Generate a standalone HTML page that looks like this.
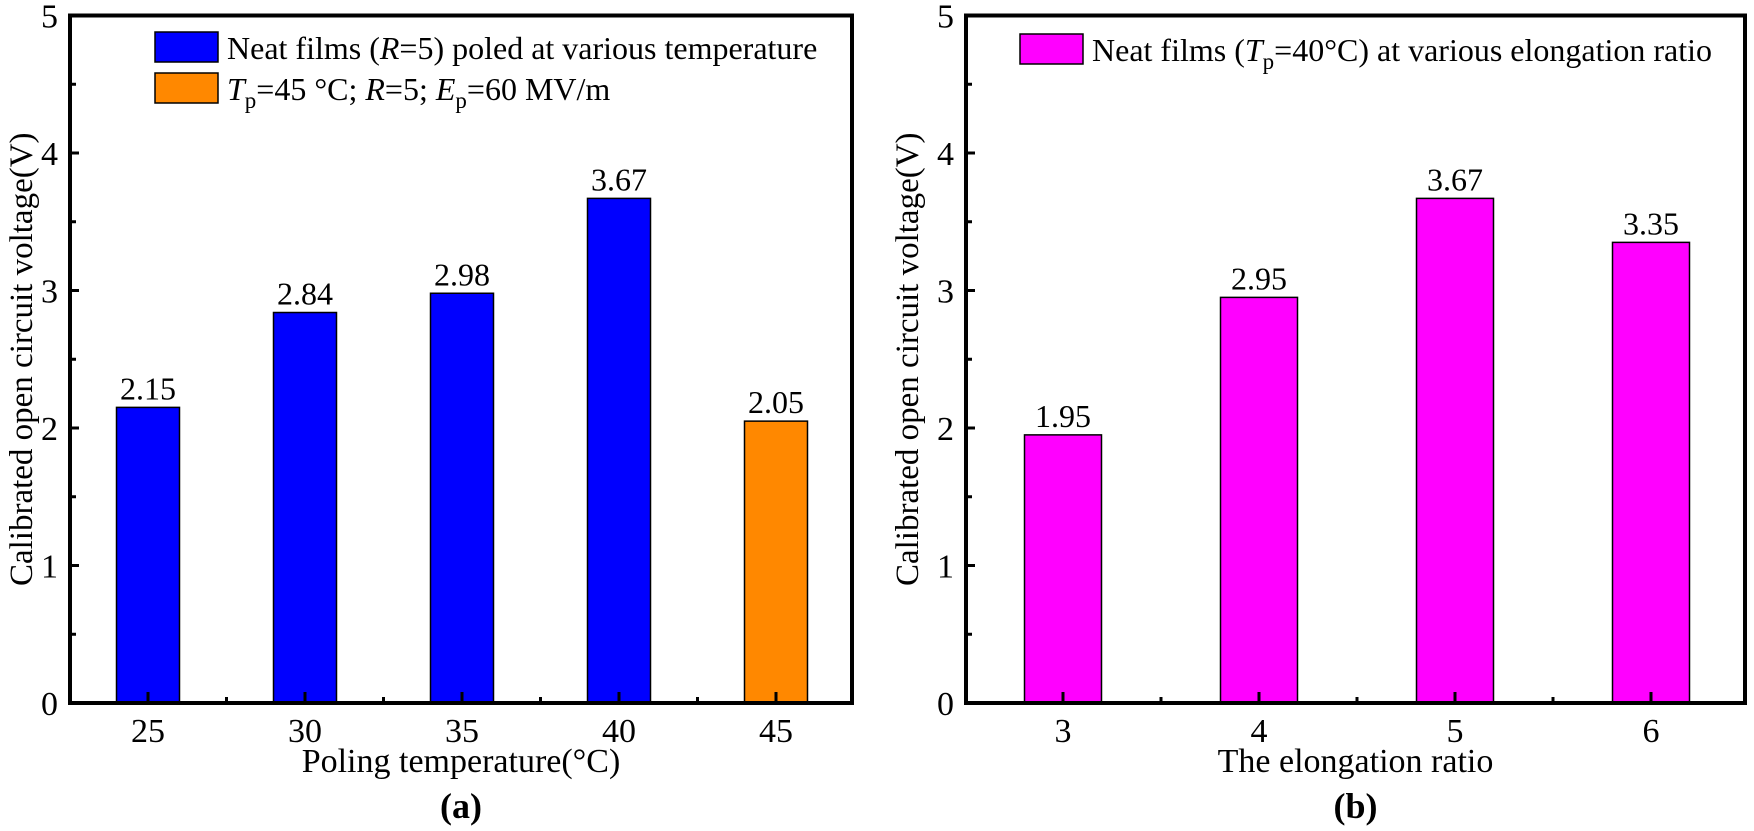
<!DOCTYPE html>
<html><head><meta charset="utf-8"><style>
html,body{margin:0;padding:0;background:#fff;}
svg, svg text{font-family:"Liberation Serif","Times New Roman",serif;}
svg{display:block;}
</style></head><body>
<svg id="c" width="1754" height="831" viewBox="0 0 1754 831" xmlns="http://www.w3.org/2000/svg"></svg>
<script>
const catsA = ["25","30","35","40","45"];
const valsA = [2.15, 2.84, 2.98, 3.67, 2.05];
const colorsA = ["#0000ff","#0000ff","#0000ff","#0000ff","#ff8800"];
const catsB = ["3","4","5","6"];
const valsB = [1.95, 2.95, 3.67, 3.35];
const yTicks = [0,1,2,3,4,5];
const NS="http://www.w3.org/2000/svg";
const svg=document.getElementById('c');
function mk(tag,attrs,parent){const e=document.createElementNS(NS,tag);for(const k in attrs)e.setAttribute(k,attrs[k]);(parent||svg).appendChild(e);return e;}
const y0=703,yTop=15.5;
function yS(v){return y0-(v/5)*(y0-yTop);}
function panel(p){
  const g=mk('g',{});
  
  
  const xS=i=>p.x0+p.step*i;
  p.vals.forEach((v,i)=>{
    const r=mk('rect',{x:xS(i)-p.bw/2,y:yS(v),width:p.bw,height:y0-yS(v),fill:p.colors[i],stroke:'#000','stroke-width':1.5},g);
    
    
    const t=mk('text',{x:xS(i),y:yS(v)-8,'text-anchor':'middle','font-size':32},g);
    t.textContent=v.toFixed(2);
    
    
  });
  const f=mk('rect',{x:p.left,y:yTop,width:p.right-p.left,height:y0-yTop,fill:'none',stroke:'#000','stroke-width':4},g);
  
  
  yTicks.forEach(v=>{
    mk('line',{x1:p.left,x2:p.left+9,y1:yS(v),y2:yS(v),stroke:'#000','stroke-width':3},g);
    if(v<5) mk('line',{x1:p.left,x2:p.left+6,y1:yS(v+0.5),y2:yS(v+0.5),stroke:'#000','stroke-width':3},g);
    const t=mk('text',{x:p.left-12,y:yS(v)+12,'text-anchor':'end','font-size':34},g);
    t.textContent=v;
    
    
  });
  p.cats.forEach((c,i)=>{
    mk('line',{x1:xS(i),x2:xS(i),y1:y0,y2:y0-11,stroke:'#000','stroke-width':3},g);
    if(i<p.cats.length-1) mk('line',{x1:xS(i+0.5),x2:xS(i+0.5),y1:y0,y2:y0-6,stroke:'#000','stroke-width':3},g);
    const t=mk('text',{x:xS(i),y:742,'text-anchor':'middle','font-size':34},g);
    t.textContent=c;
    
    
  });
  const cx=(p.left+p.right)/2;
  const xl=mk('text',{x:cx,y:772,'text-anchor':'middle','font-size':34},g);
  xl.textContent=p.xlabel;
  
  
  const pl=mk('text',{x:cx,y:818,'text-anchor':'middle','font-size':36,'font-weight':'bold'},g);
  pl.textContent=p.tag;
  
  
  const yl=mk('text',{x:0,y:0,'text-anchor':'middle','font-size':33,transform:`translate(${p.ylx},${(y0+yTop)/2}) rotate(-90)`},g);
  yl.textContent='Calibrated open circuit voltage(V)';
  
  
  return g;
}
const ga=panel({name:'panel-a',left:70,right:852,x0:148,step:157,bw:63,cats:catsA,vals:valsA,colors:colorsA,xlabel:'Poling temperature(°C)',tag:'(a)',ylx:32});
const gb=panel({name:'panel-b',left:966,right:1745,x0:1063,step:196,bw:77,cats:catsB,vals:valsB,colors:catsB.map(()=>'#ff00ff'),xlabel:'The elongation ratio',tag:'(b)',ylx:918});
function legend(g,x,y,color,html){
  const r=mk('rect',{x:x,y:y,width:63,height:30,fill:color,stroke:'#000','stroke-width':1.5},g);
  
  
  const t=mk('text',{x:x+72,y:y+27,'font-size':32},g);
  t.innerHTML=html;
  
  
}
legend(ga,155,32,'#0000ff','Neat films (<tspan font-style="italic">R</tspan>=5) poled at various temperature');
legend(ga,155,73,'#ff8800','<tspan font-style="italic">T</tspan><tspan font-size="23" dy="8">p</tspan><tspan dy="-8">=45 °C; </tspan><tspan font-style="italic">R</tspan>=5; <tspan font-style="italic">E</tspan><tspan font-size="23" dy="8">p</tspan><tspan dy="-8">=60 MV/m</tspan>');
legend(gb,1020,34,'#ff00ff','Neat films (<tspan font-style="italic">T</tspan><tspan font-size="23" dy="8">p</tspan><tspan dy="-8">=40°C) at various elongation ratio</tspan>');
</script>
</body></html>
